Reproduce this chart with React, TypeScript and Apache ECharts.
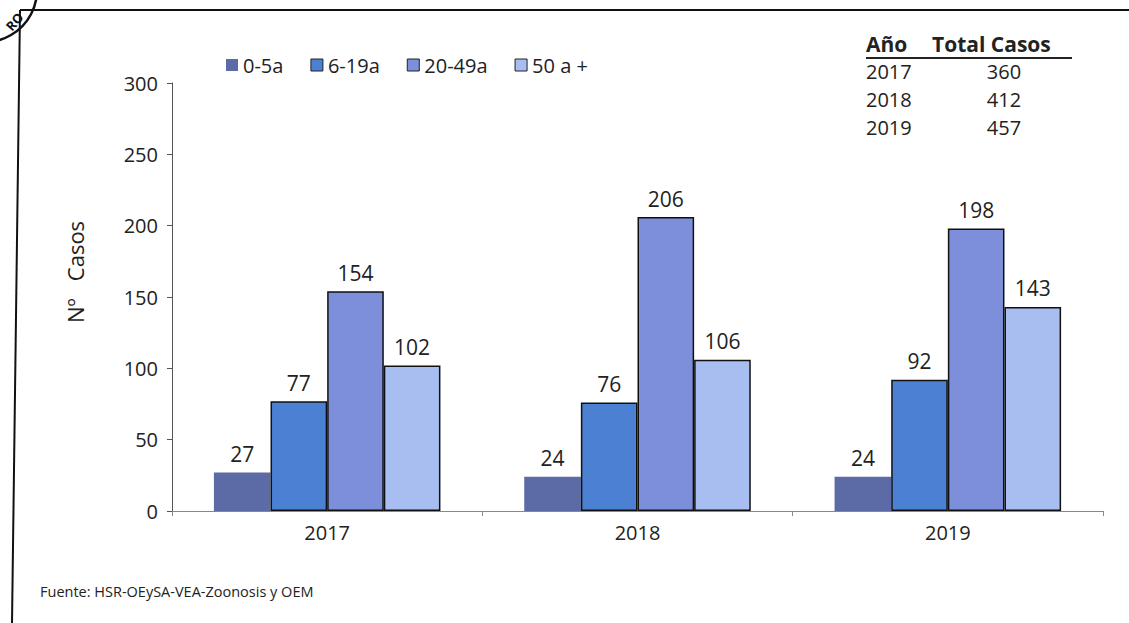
import React, { useEffect, useRef } from "react";
import * as echarts from "echarts";

const years = ["2017", "2018", "2019"];
const groups = ["0-5a", "6-19a", "20-49a", "50 a +"];
const v0_5 = [27, 24, 24];
const v6_19 = [77, 76, 92];
const v20_49 = [154, 206, 198];
const v50 = [102, 106, 143];
const totals = [360, 412, 457];

const colors = ["#5C6BA6", "#4C80D2", "#7D8FDA", "#A8BDF0"];
const FONT = "'Open Sans', Lato, sans-serif";

export default function App() {
  const ref = useRef<HTMLDivElement>(null);
  useEffect(() => {
    document.body.style.margin = "0";
    const chart = echarts.init(ref.current!, null, { renderer: "svg" });
    const seriesData = [v0_5, v6_19, v20_49, v50];
    const tableRows = years
      .map((y, i) => [
        { type: "text", left: 866, top: 61 + i * 28, style: { text: y, font: `20px ${FONT}`, fill: "#222" } },
        {
          type: "text",
          x: 1004,
          y: 61 + i * 28,
          style: { text: String(totals[i]), font: `20px ${FONT}`, fill: "#222", align: "center", verticalAlign: "top" },
        },
      ])
      .flat();
    chart.setOption({
      animation: false,
      backgroundColor: "#ffffff",
      textStyle: { fontFamily: FONT },
      grid: { left: 172, right: 26, top: 83, bottom: 112 },
      legend: {
        left: 221,
        top: 50,
        itemWidth: 12,
        itemHeight: 12,
        itemGap: 27,
        icon: "rect",
        textStyle: { fontSize: 20, color: "#222", fontFamily: FONT },
        data: groups.map((g, i) => ({
          name: g,
          itemStyle: { borderColor: i === 0 ? colors[0] : "#222", borderWidth: i === 0 ? 0 : 1 },
        })),
      },
      xAxis: {
        type: "category",
        data: years,
        axisLine: { lineStyle: { color: "#888", width: 1 } },
        axisTick: { show: true, alignWithLabel: false, length: 5, lineStyle: { color: "#888" } },
        axisLabel: { fontSize: 20, color: "#222", margin: 11, fontFamily: FONT },
      },
      yAxis: {
        type: "value",
        min: 0,
        max: 300,
        interval: 50,
        axisLine: { show: true, lineStyle: { color: "#555", width: 1 } },
        axisTick: { show: true, length: 5, lineStyle: { color: "#555" } },
        splitLine: { show: false },
        axisLabel: { fontSize: 20, color: "#222", margin: 14, fontFamily: FONT },
      },
      series: groups.map((g, i) => ({
        name: g,
        type: "bar",
        data: seriesData[i],
        barGap: "0%",
        barCategoryGap: "27%",
        itemStyle: {
          color: colors[i],
          borderColor: i === 0 ? colors[0] : "#111",
          borderWidth: i === 0 ? 0 : 1.5,
        },
        label: {
          show: true,
          position: "top",
          distance: 8,
          fontSize: 21,
          color: "#222",
          fontFamily: FONT,
        },
      })),
      graphic: [
        { type: "line", shape: { x1: 20, y1: 10, x2: 1129, y2: 10 }, style: { stroke: "#111", lineWidth: 2 } },
        { type: "line", shape: { x1: 20, y1: 10, x2: 12, y2: 623 }, style: { stroke: "#111", lineWidth: 2 } },
        { type: "circle", shape: { cx: -15, cy: -10, r: 52 }, style: { fill: "none", stroke: "#111", lineWidth: 2.5 } },
        {
          type: "text",
          x: 13,
          y: 33,
          rotation: 0.85,
          style: { text: "RO", font: `bold 13px ${FONT}`, fill: "#111", align: "left", verticalAlign: "bottom" },
        },
        {
          type: "text",
          x: 75,
          y: 272,
          rotation: Math.PI / 2,
          style: { text: "Nº   Casos", font: `22px ${FONT}`, fill: "#222", align: "center", verticalAlign: "middle" },
        },
        { type: "text", left: 866, top: 33, style: { text: "Año", font: `bold 21px ${FONT}`, fill: "#222" } },
        { type: "text", left: 932, top: 33, style: { text: "Total Casos", font: `bold 21px ${FONT}`, fill: "#222" } },
        { type: "line", shape: { x1: 866, y1: 58, x2: 1072, y2: 58 }, style: { stroke: "#222", lineWidth: 2 } },
        ...tableRows,
        {
          type: "text",
          left: 40,
          top: 584,
          style: { text: "Fuente: HSR-OEySA-VEA-Zoonosis y OEM", font: `14.5px ${FONT}`, fill: "#222" },
        },
      ],
    });
    return () => chart.dispose();
  }, []);
  return <div ref={ref} style={{ width: 1129, height: 623 }} />;
}
